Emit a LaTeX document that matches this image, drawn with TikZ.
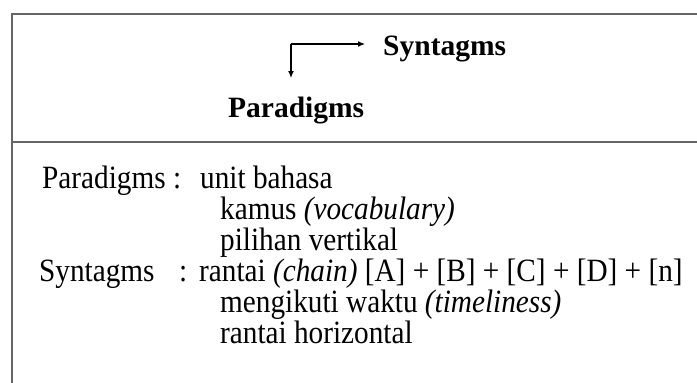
\documentclass[tikz,border=0pt]{standalone}
\usepackage{fontspec}
\setmainfont{Liberation Serif}
\newfontfamily\tallserif[FakeStretch=0.9]{Liberation Serif}
\usetikzlibrary{arrows.meta}
\begin{document}
\begin{tikzpicture}[x=1pt,y=-1pt,
  frame/.style={draw=black!60,line width=1.6pt},
  arr/.style={draw=black,line width=1.2pt,-{Latex[length=7pt,width=6pt]}},
  head/.style={font=\fontsize{29.5}{31}\selectfont\bfseries,inner sep=0pt,anchor=base west},
  body/.style={font=\tallserif\fontsize{32.5}{34}\selectfont,inner sep=0pt,anchor=base west}]
  \useasboundingbox (0,0) rectangle (697,383);
  \clip (0,0) rectangle (697,383);
  % frame: open at the right and bottom, split by a rule under the header
  \draw[frame] (12,420) -- (12,14) -- (720,14);
  \draw[frame] (12,142) -- (720,142);
  % header
  \node[head] (syn) at (383,55) {Syntagms};
  \node[head] (par) at (228,117) {Paradigms};
  \coordinate (corner) at (291,44);
  \coordinate (down) at (291,78);
  \draw[arr,shorten >=18pt] (corner) -- (corner -| syn.west);
  \draw[arr] (corner) -- (down);
  % body
  \node[body] (pl) at (42,188) {Paradigms};
  \node[body] (pc) at (173,188) {:};
  \node[body] (p1) at (200,188) {unit bahasa};
  \node[body] (p2) at (220,219) {kamus \textit{(vocabulary)}};
  \node[body] (p3) at (220,250) {pilihan vertikal};
  \node[body] (sl) at (39,281) {Syntagms};
  \node[body] (sc) at (179,281) {:};
  \node[body] (s1) at (199,281) {rantai \textit{(chain)} [A] + [B] + [C] + [D] + [n]};
  \node[body] (s2) at (220,312) {mengikuti waktu \textit{(timeliness)}};
  \node[body] (s3) at (220,343) {rantai horizontal};
\end{tikzpicture}
\end{document}
